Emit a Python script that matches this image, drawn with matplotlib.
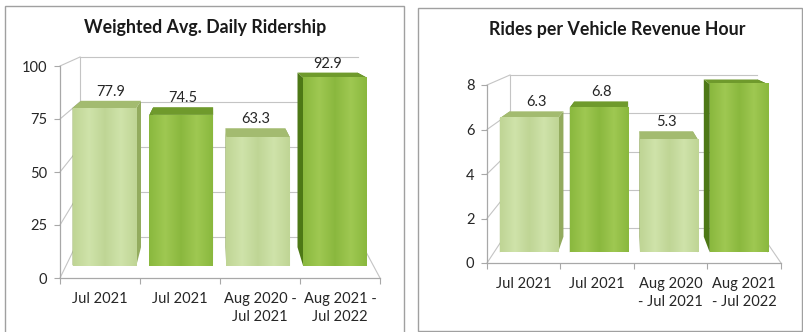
import matplotlib
matplotlib.use('Agg')
import matplotlib.pyplot as plt
import numpy as np
from matplotlib.patches import Polygon, Rectangle
from matplotlib.colors import LinearSegmentedColormap

plt.rcParams['font.family'] = ['Lato', 'DejaVu Sans']

W, H = 804, 332

# chart data
ride_title = 'Weighted Avg. Daily Ridership'
ride_labels = ['Jul 2021', 'Jul 2021', 'Aug 2020 -\nJul 2021', 'Aug 2021 -\nJul 2022']
ride_values = [77.9, 74.5, 63.3, 92.9]
ride_ticks = [0, 25, 50, 75, 100]

rvh_title = 'Rides per Vehicle Revenue Hour'
rvh_labels = ['Jul 2021', 'Jul 2021', 'Aug 2020\n- Jul 2021', 'Aug 2021\n- Jul 2022']
rvh_values = [6.3, 6.8, 5.3, 7.9]
rvh_ticks = [0, 2, 4, 6, 8]

bar_shades = ['light', 'dark', 'light', 'dark']

PALETTE = {
    'light': dict(edge='#bfd595', mid='#cfe3aa', top='#a3bb70', side='#93ab5e'),
    'dark': dict(edge='#8ab83e', mid='#9fc852', top='#6f9a2c', side='#4d7816'),
}
GRID = '#c4c4c4'
SPINE = '#a8a8a8'
TEXT = '#262626'

BAR_W = 0.83        # fraction of a category slot
T_FRONT, T_BACK = 0.30, 0.75   # depth of bar front / back face (0 = front, 1 = back wall)


def px_box(x0, y_top, x1, y_bot):
    return [x0 / W, 1 - y_bot / H, (x1 - x0) / W, (y_bot - y_top) / H]


def draw_panel(fig, front, back, values, labels, ticks, title, title_xy, border):
    """front/back: pixel frames (x0, y_top, x1, y_bottom) of the front axis plane and back wall."""
    ax = fig.add_axes(px_box(*front))
    n = len(values)
    vmax = ticks[-1]

    # back wall in data units of the front plane
    fx0, fyt, fx1, fyb = front
    bx0 = (back[0] - fx0) / (fx1 - fx0) * n
    bx1 = (back[2] - fx0) / (fx1 - fx0) * n
    by0 = (fyb - back[3]) / (fyb - fyt) * vmax
    by1 = (fyb - back[1]) / (fyb - fyt) * vmax

    def proj(x, v, t):
        xb = bx0 + x / n * (bx1 - bx0)
        yb = by0 + v / vmax * (by1 - by0)
        return (x + (xb - x) * t, v + (yb - v) * t)

    def line(p, q, **kw):
        ax.plot([p[0], q[0]], [p[1], q[1]], color=GRID, lw=0.8, clip_on=False, zorder=1, **kw)

    # back wall gridlines and left wall lines
    for g in ticks:
        line(proj(0, g, 1), proj(n, g, 1))
        line(proj(0, g, 0), proj(0, g, 1))
    line(proj(0, 0, 1), proj(0, vmax, 1))
    line(proj(n, 0, 0), proj(n, 0, 1))

    # bars
    for i, (v, shade) in enumerate(zip(values, bar_shades)):
        c = PALETTE[shade]
        xl, xr = i + 0.5 - BAR_W / 2, i + 0.5 + BAR_W / 2
        for xs in (xl, xr):
            side = [proj(xs, 0, T_FRONT), proj(xs, v, T_FRONT), proj(xs, v, T_BACK), proj(xs, 0, T_BACK)]
            ax.add_patch(Polygon(side, closed=True, fc=c['side'], ec='none', clip_on=False, zorder=2))
        top = [proj(xl, v, T_FRONT), proj(xr, v, T_FRONT), proj(xr, v, T_BACK), proj(xl, v, T_BACK)]
        ax.add_patch(Polygon(top, closed=True, fc=c['top'], ec='none', clip_on=False, zorder=3))

        (ax0, ay0), (ax1, ay1) = proj(xl, 0, T_FRONT), proj(xr, v, T_FRONT)
        cmap = LinearSegmentedColormap.from_list(shade, [c['edge'], c['mid'], c['edge'], c['mid'], c['edge']])
        im = ax.imshow(np.linspace(0, 1, 64)[None, :], cmap=cmap, extent=[ax0, ax1, ay0, ay1],
                       aspect='auto', interpolation='bilinear', zorder=4)
        im.set_clip_on(False)

        lx, ly = proj(i + 0.5, v, T_BACK)
        ax.annotate(f'{v:.1f}', (lx, ly), xytext=(0, 1.5), textcoords='offset points',
                    ha='center', va='bottom', fontsize=10.5, color=TEXT, zorder=5)

    ax.set_xlim(0, n)
    ax.set_ylim(0, vmax)
    ax.set_facecolor('none')
    for s in ('top', 'right'):
        ax.spines[s].set_visible(False)
    for s in ('left', 'bottom'):
        ax.spines[s].set_color(SPINE)
        ax.spines[s].set_linewidth(0.9)

    ax.set_yticks(ticks)
    ax.set_yticklabels([str(t) for t in ticks])
    ax.tick_params(axis='y', length=4, color=SPINE, labelsize=10.5, labelcolor=TEXT, pad=5)
    ax.set_xticks(range(n + 1))
    ax.set_xticklabels([])
    ax.set_xticks([i + 0.5 for i in range(n)], minor=True)
    ax.set_xticklabels(labels, minor=True, fontsize=10.5, color=TEXT, linespacing=1.35)
    ax.tick_params(axis='x', which='major', length=4, color=SPINE)
    ax.tick_params(axis='x', which='minor', length=0, pad=10)

    fig.text(title_xy[0] / W, 1 - title_xy[1] / H, title, ha='center', va='center',
             fontsize=12.8, fontweight='bold', color='#1a1a1a')
    bx, by, bw, bh = border
    fig.patches.append(Rectangle((bx / W, 1 - (by + bh) / H), bw / W, bh / H, fill=False,
                                 ec='#a0a0a0', lw=1.0, transform=fig.transFigure, figure=fig))


fig = plt.figure(figsize=(W / 100, H / 100), dpi=100)
fig.patch.set_facecolor('white')

draw_panel(fig, (60, 66, 380, 278), (80, 57, 358, 237), ride_values, ride_labels, ride_ticks,
           ride_title, (205, 27), (5, 6, 399, 340))
draw_panel(fig, (487, 85, 781, 263), (510, 75, 757, 228), rvh_values, rvh_labels, rvh_ticks,
           rvh_title, (617, 30), (418, 8, 384, 323))

fig.savefig('out.png', dpi=100, facecolor='white')
